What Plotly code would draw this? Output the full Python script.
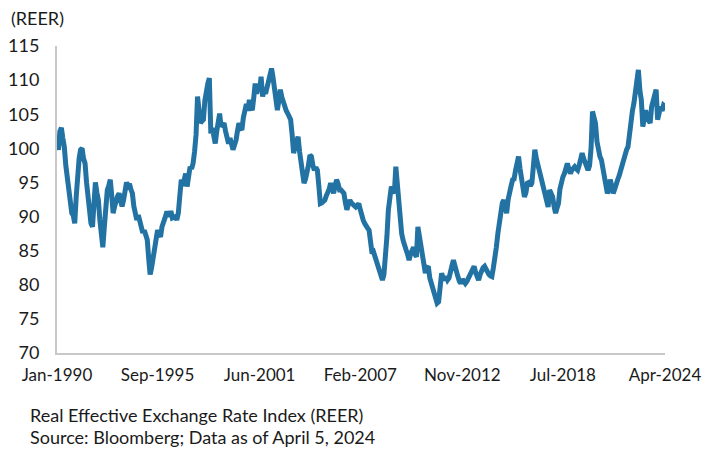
import pandas as pd
import plotly.graph_objects as go

# Monthly REER readings (Jan-1990 .. Apr-2024)
reer_1990s = [
    100.5, 99.8, 102.5, 103.0, 101.5, 100.2, 97.5, 95.4, 93.0, 91.5, 90.5, 90.2,
    89.0, 93.0, 96.8, 98.5, 99.8, 100.0, 98.5, 97.8, 95.0, 92.5, 90.5, 89.0,
    88.5, 92.0, 95.0, 93.5, 92.4, 89.5, 87.0, 85.5, 88.5, 92.0, 93.9, 94.5,
    95.4, 93.0, 90.5, 91.5, 92.5, 93.0, 93.4, 92.5, 91.5, 92.4, 93.8, 95.0,
    94.5, 94.8, 94.0, 93.4, 91.5, 90.0, 89.5, 90.2, 89.0, 88.5, 87.6, 88.0,
    87.0, 86.6, 84.0, 81.5, 82.5, 84.0, 85.5, 87.0, 88.0, 87.5, 87.0, 88.5,
    89.5, 89.8, 90.5, 90.5, 90.0, 90.8, 89.8, 90.0, 90.0, 89.5, 90.5, 93.0,
    95.4, 94.5, 96.0, 96.3, 94.4, 96.0, 97.3, 97.0, 97.8, 99.5, 102.0, 107.6,
    105.0, 103.7, 104.0, 104.2, 107.0, 108.6, 109.5, 110.3, 102.2, 103.0, 101.2, 100.7,
    102.5, 104.5, 105.1, 103.2, 103.5, 103.7, 102.5, 101.5, 100.7, 101.5, 100.5, 99.8,
]
reer_2000s = [
    100.5, 101.2, 102.5, 103.7, 103.0, 102.7, 104.5, 106.1, 106.5, 105.5, 107.1, 106.0,
    105.6, 107.5, 109.5, 108.0, 109.1, 108.5, 110.5, 107.6, 108.5, 108.0, 109.0, 110.0,
    111.0, 111.7, 110.5, 109.0, 107.0, 105.6, 107.0, 108.6, 107.5, 106.6, 106.0, 105.5,
    105.1, 104.5, 104.2, 102.0, 99.3, 100.2, 101.0, 101.7, 99.5, 98.3, 96.5, 94.9,
    95.5, 96.3, 97.5, 99.0, 98.8, 97.5, 96.8, 97.2, 96.8, 94.5, 91.9, 92.0,
    92.2, 92.4, 93.0, 93.4, 94.0, 94.9, 94.0, 93.4, 94.5, 95.4, 94.8, 93.9,
    93.9, 93.5, 93.4, 92.0, 91.0, 91.8, 92.4, 92.0, 91.8, 91.5, 91.4, 91.6,
    91.9, 91.0, 89.8, 89.5, 89.0, 88.5, 88.3, 88.0, 86.5, 84.6, 84.8, 84.1,
    83.5, 82.5, 81.7, 81.2, 80.7, 81.5, 83.6, 87.0, 91.0, 93.5, 94.4, 93.8,
    93.4, 97.3, 95.0, 91.4, 89.5, 87.5, 86.5, 85.5, 85.1, 84.5, 83.6, 84.5,
]
reer_2010s = [
    85.1, 85.5, 84.5, 84.1, 88.5, 87.0, 85.1, 83.5, 82.0, 81.7, 82.5, 82.7,
    81.0, 80.2, 79.5, 78.3, 77.8, 77.3, 77.5, 80.0, 81.7, 81.0, 80.7, 81.2,
    80.7, 81.0, 82.2, 82.8, 83.6, 82.5, 81.5, 81.2, 80.5, 80.2, 80.8, 80.5,
    80.2, 80.5, 81.0, 81.2, 81.8, 82.3, 82.7, 81.8, 81.0, 80.7, 81.5, 82.2,
    82.5, 82.7, 82.2, 81.7, 81.5, 81.3, 81.2, 82.5, 83.6, 85.5, 87.5, 89.0,
    91.0, 92.0, 92.4, 91.5, 90.5, 92.5, 93.9, 94.5, 95.4, 95.5, 96.8, 97.5,
    98.8, 97.0, 95.4, 94.0, 92.9, 93.5, 94.9, 95.0, 94.5, 94.9, 98.0, 99.8,
    98.5, 97.8, 97.0, 95.9, 95.0, 94.2, 93.0, 92.0, 91.4, 93.9, 93.2, 92.9,
    91.5, 90.5, 91.2, 91.9, 94.0, 95.4, 95.8, 96.3, 97.0, 97.8, 97.0, 96.3,
    96.8, 97.0, 97.3, 97.0, 96.8, 97.5, 98.5, 99.3, 98.5, 97.8, 97.3, 96.8,
]
reer_2020s = [
    97.5, 100.0, 105.4, 104.5, 103.7, 101.0, 99.3, 98.8, 98.3, 97.0, 95.4, 94.5,
    93.4, 94.0, 95.4, 94.5, 93.4, 94.0, 95.0, 95.4, 96.0, 96.8, 97.8, 98.8,
    99.0, 99.8, 100.2, 102.5, 104.2, 105.5, 106.6, 108.0, 109.5, 111.5, 108.5, 107.1,
    103.2, 104.5, 105.6, 104.5, 104.0, 103.7, 106.1, 107.0, 108.0, 108.6, 104.2, 105.0,
    106.1, 105.5, 106.3, 106.1,
]

tick_dates = ["1990-01-01", "1995-09-01", "2001-06-01", "2007-02-01",
              "2012-11-01", "2018-07-01", "2024-04-01"]
tick_labels = ["Jan-1990", "Sep-1995", "Jun-2001", "Feb-2007",
               "Nov-2012", "Jul-2018", "Apr-2024"]
y_ticks = [70, 75, 80, 85, 90, 95, 100, 105, 110, 115]

values = reer_1990s + reer_2000s + reer_2010s + reer_2020s
dates = pd.date_range("1990-01-01", periods=len(values), freq="MS")

FONT = "Lato, 'Open Sans', sans-serif"
TXT = "#1a1a1a"
LINE = "#2272A3"
AXIS = "#C8C8C8"

fig = go.Figure()
fig.add_trace(go.Scatter(x=dates, y=values, mode="lines",
                         line=dict(color=LINE, width=5),
                         hoverinfo="x+y", showlegend=False))

# page body adds an 8px offset, so the figure is 714x444 with shifted margins
fig.update_layout(
    width=714, height=444,
    margin=dict(l=49, r=57, t=38, b=99),
    paper_bgcolor="white", plot_bgcolor="white",
    font=dict(family=FONT, size=18, color=TXT),
    xaxis=dict(
        type="date",
        range=["1990-01-01", "2024-04-01"],
        tickvals=tick_dates, ticktext=tick_labels,
        showgrid=False, zeroline=False, ticks="",
        showline=True, linecolor=AXIS, linewidth=2,
        tickfont=dict(family=FONT, size=17, color=TXT),
        ticklabelstandoff=6, automargin=False,
    ),
    yaxis=dict(
        range=[70, 115],
        tickvals=y_ticks,
        showgrid=False, zeroline=False, ticks="",
        showline=True, linecolor=AXIS, linewidth=2,
        tickfont=dict(family=FONT, size=18, color=TXT),
        ticklabelstandoff=12, automargin=False,
    ),
    annotations=[
        dict(text="(REER)", xref="paper", yref="paper",
             x=-0.079, y=1.09, xanchor="left", yanchor="middle",
             showarrow=False, font=dict(family=FONT, size=18, color=TXT)),
        dict(text="Real Effective Exchange Rate Index (REER)", xref="paper", yref="paper",
             x=-0.048, y=-0.202, xanchor="left", yanchor="middle",
             showarrow=False, font=dict(family=FONT, size=18, color=TXT)),
        dict(text="Source: Bloomberg; Data as of April 5, 2024", xref="paper", yref="paper",
             x=-0.048, y=-0.274, xanchor="left", yanchor="middle",
             showarrow=False, font=dict(family=FONT, size=18, color=TXT)),
    ],
)

fig.write_html("out.html")
